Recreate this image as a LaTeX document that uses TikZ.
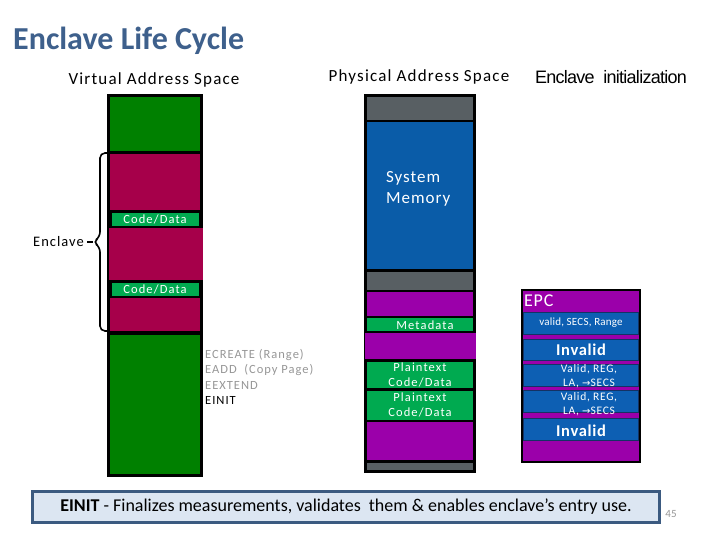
\documentclass[tikz,border=0pt]{standalone}
\usepackage{fontspec}
\setmainfont{Carlito}
\newfontfamily\arialf{Liberation Sans}
\newfontfamily\arrowf{DejaVu Sans}
\usetikzlibrary{positioning}
\definecolor{titleblue}{RGB}{62,96,140}
\definecolor{vgreen}{RGB}{0,128,0}
\definecolor{maroon}{RGB}{166,0,74}
\definecolor{cgreen}{RGB}{0,170,80}
\definecolor{pgray}{RGB}{88,95,99}
\definecolor{sblue}{RGB}{10,92,168}
\definecolor{purp}{RGB}{155,0,170}
\definecolor{eblue}{RGB}{13,95,179}
\definecolor{eborder}{RGB}{20,50,100}
\definecolor{boxfill}{RGB}{220,230,242}
\definecolor{boxline}{RGB}{59,90,128}
\definecolor{cmdgray}{RGB}{150,150,150}
\tikzset{
  seg/.style={draw=none, inner sep=0pt, outer sep=0pt, text=white, align=center},
  ebar/.style={draw=eborder, line width=1pt, fill=eblue, inner sep=0pt, outer sep=0pt, text=white, align=center},
  lbl/.style={inner sep=0pt, font=\fontsize{17}{19}\selectfont\addfontfeatures{LetterSpace=7}},
  cmd/.style={inner sep=0pt, anchor=west, text=cmdgray, font=\fontsize{12.5}{14}\selectfont\addfontfeatures{LetterSpace=8}},
  small/.style={font=\fontsize{12.5}{15}\selectfont\addfontfeatures{LetterSpace=9}},
  invtext/.style={font=\fontsize{16.5}{18}\selectfont\bfseries\addfontfeatures{LetterSpace=4}}
}
\newcommand{\segbox}[6]{% name, fill, x1, y1, x2, y2
  \node[seg, fill=#2, minimum width=#5pt-#3pt, minimum height=#6pt-#4pt] (#1) at ({(#3+#5)/2},{(#4+#6)/2}) {};}
\begin{document}
\begin{tikzpicture}[x=1pt,y=-1pt]
\useasboundingbox (0,0) rectangle (720,540);
% title
\node[anchor=west, inner sep=0pt, text=titleblue, font=\fontsize{32}{34}\selectfont\bfseries] (title) at (13,41) {Enclave Life Cycle};
\node[lbl] (vas) at (154,80) {Virtual Address Space};
\node[lbl] (pas) at (419,77) {Physical Address Space};
\node[inner sep=0pt, font=\arialf\fontsize{18}{20}\selectfont\addfontfeatures{LetterSpace=-4}] (einit) at (611,77) {Enclave\ \ initialization};

% virtual column
\segbox{vcol}{black}{107}{94}{203}{477}
\segbox{v1}{vgreen}{110}{97}{200}{151}
\segbox{v2}{maroon}{110}{154}{200}{210}
\segbox{v3}{cgreen}{112}{213}{199}{226}
\node[seg, small] at (155,219.5) {Code/Data};
\segbox{v4}{maroon}{109}{228}{203}{280}
\segbox{v5}{cgreen}{112}{283}{199}{296}
\node[seg, small] at (155,289.5) {Code/Data};
\segbox{v6}{maroon}{110}{298}{200}{331}
\segbox{v7}{vgreen}{110}{335}{200}{474}

% brace
\node[anchor=east, inner sep=0pt, font=\fontsize{14.5}{16}\selectfont\addfontfeatures{LetterSpace=7}] (encl) at (84,242) {Enclave};
\coordinate (btop) at (109,153);
\coordinate (bbot) at (109,331);
\draw[line width=1.6pt, rounded corners=5pt] (btop) -- (100,153) -- (100,237) -- (93,242) -- (100,247) -- (100,331) -- (bbot);
\draw[line width=1.4pt] (encl.east) ++(3,0) -- (93,242);

% commands
\node[cmd] (c1) at (205,355) {ECREATE (Range)};
\node[cmd] (c2) at (205,370) {EADD\ \ (Copy Page)};
\node[cmd] (c3) at (205,385) {EEXTEND};
\node[cmd, text=black] (c4) at (205,400) {EINIT};

% physical column
\segbox{pcol}{black}{364}{94}{476}{473}
\segbox{p1}{pgray}{367}{97}{473}{120}
\segbox{p2}{sblue}{367}{122}{473}{269}
\node[seg, anchor=west, align=left, font=\fontsize{17}{21}\selectfont\addfontfeatures{LetterSpace=6}] at (386,189) {System\\Memory};
\segbox{p3}{pgray}{367}{272}{473}{290}
\segbox{p4}{purp}{367}{292}{473}{316}
\segbox{p5}{cgreen}{367}{318}{473}{331}
\node[seg, small] at (425,325) {Metadata};
\segbox{p6}{purp}{365}{333}{476}{359}
\segbox{p7}{cgreen}{367}{362}{473}{388}
\node[seg, small] at (420,374.5) {Plaintext\\Code/Data};
\segbox{p8}{cgreen}{367}{391}{473}{420}
\node[seg, small] at (420,405) {Plaintext\\Code/Data};
\segbox{p9}{purp}{367}{422}{473}{460}
\segbox{p10}{pgray}{367}{463}{473}{470}

% EPC column
\segbox{ecol}{black}{521}{289}{641}{463}
\segbox{eback}{purp}{523}{291}{639}{461}
\node[seg, anchor=west, font=\fontsize{18}{19}\selectfont\addfontfeatures{LetterSpace=5}] (epc) at (524,301) {EPC};
\node[ebar, minimum width=115pt, minimum height=22pt] (e1) at (581,323) {};
\node[seg, font=\fontsize{11}{12}\selectfont\addfontfeatures{LetterSpace=2}] at (e1) {valid, SECS, Range};
\node[ebar, minimum width=115pt, minimum height=21pt] (e2) at (581,350) {};
\node[seg, invtext] at (e2) {Invalid};
\node[ebar, minimum width=115pt, minimum height=22pt] (e3) at (581,375) {};
\node[ebar, minimum width=115pt, minimum height=22pt] (e4) at (581,401) {};
\node[seg, font=\fontsize{11.5}{14.5}\selectfont\addfontfeatures{LetterSpace=6}] at (589,376) {Valid, REG,\\LA, {\arrowf\fontsize{10}{10}\selectfont →}SECS};
\node[seg, font=\fontsize{11.5}{14.5}\selectfont\addfontfeatures{LetterSpace=6}] at (589,404) {Valid, REG,\\LA, {\arrowf\fontsize{10}{10}\selectfont →}SECS};
\node[ebar, minimum width=115pt, minimum height=22pt] (e5) at (581,429) {};
\node[seg, invtext] at (581,431) {Invalid};

% bottom box
\node[draw=boxline, line width=3pt, fill=boxfill, minimum width=627pt, minimum height=31pt, inner sep=0pt, font=\fontsize{18}{19}\selectfont] (note) at (346,507) {\textbf{EINIT} - Finalizes measurements, validates\ \ them \& enables enclave’s entry use.};
\node[inner sep=0pt, text=cmdgray, font=\fontsize{11}{12}\selectfont] (pg) at (671,514) {45};
\end{tikzpicture}
\end{document}
